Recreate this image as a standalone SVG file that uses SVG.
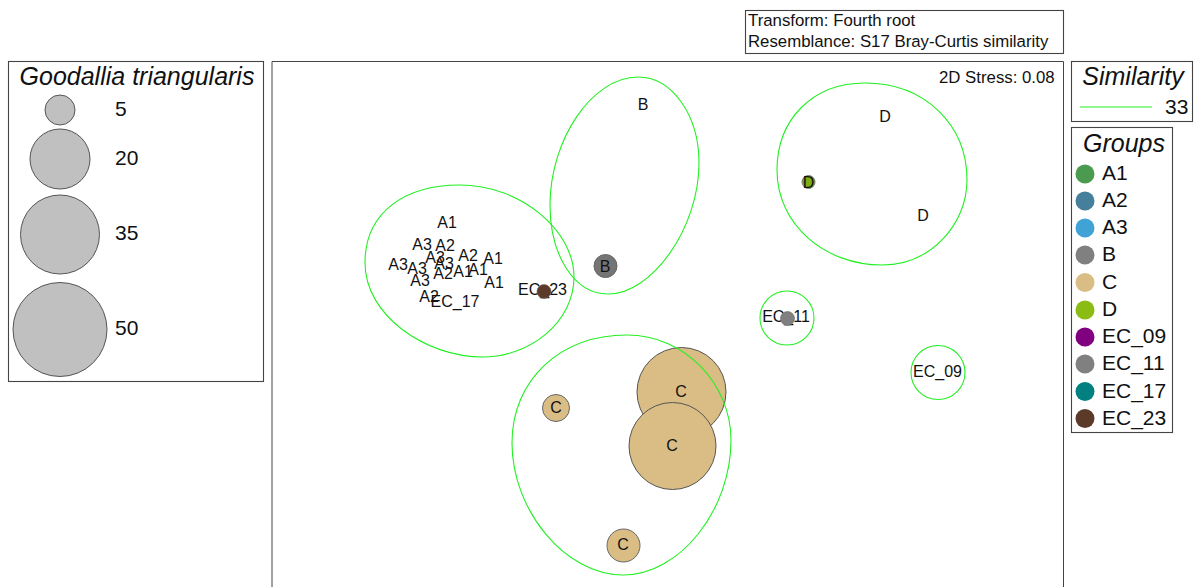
<svg xmlns="http://www.w3.org/2000/svg" width="1203" height="587" viewBox="0 0 1203 587">
<style>
text{font-family:"Liberation Sans",Arial,sans-serif;fill:#111}
.box{fill:#fff;stroke:#444;stroke-width:1.100}
.c{fill:none;stroke:#22f022;stroke-width:1.100}
.l{font-size:16px;text-anchor:middle}
.t{font-size:16.800px}
.h{font-size:25px;font-style:italic;text-anchor:middle}
.v{font-size:21px}
.g{font-size:21px}
.bub{fill:#c0c0c0;stroke:#555;stroke-width:1}
</style>
<rect width="1203" height="587" fill="#fff"/>
<g id="transform-box"><rect class="box" x="745.500" y="10.500" width="318" height="43"/><text class="t" x="748" y="25.500">Transform: Fourth root</text><text class="t" x="748" y="47">Resemblance: S17 Bray-Curtis similarity</text></g>
<g id="size-legend"><rect class="box" x="8.500" y="61.500" width="255" height="320"/><text class="h" x="137" y="85">Goodallia triangularis</text>
<circle class="bub" cx="60" cy="110" r="15"/><circle class="bub" cx="60" cy="159" r="30"/><circle class="bub" cx="60" cy="234.500" r="39.500"/><circle class="bub" cx="60" cy="329.500" r="47"/>
<text class="v" x="115" y="116">5</text><text class="v" x="115" y="165">20</text><text class="v" x="115" y="240">35</text><text class="v" x="115" y="335">50</text></g>
<g id="plot-frame"><path d="M272 587V61.500H1063.500V587" fill="#fff" stroke="#444"/><text class="t" x="939" y="82.500">2D Stress: 0.08</text></g>
<g id="similarity-legend"><rect class="box" x="1071.500" y="61.500" width="121" height="60"/><text class="h" x="1133" y="85">Similarity</text><line class="c" x1="1080" x2="1152" y1="107" y2="107"/><text class="v" x="1165" y="114">33</text></g>
<g id="groups-legend"><rect class="box" x="1071.500" y="127.500" width="101" height="305"/><text class="h" x="1124" y="152">Groups</text>
<g id="lg-A1"><circle cx="1085" cy="174" r="9.500" fill="#4a9b50"/><text class="g" x="1102" y="180">A1</text></g>
<g id="lg-A2"><circle cx="1085" cy="201" r="9.500" fill="#457f9c"/><text class="g" x="1102" y="207">A2</text></g>
<g id="lg-A3"><circle cx="1085" cy="228" r="9.500" fill="#41a2d6"/><text class="g" x="1102" y="234">A3</text></g>
<g id="lg-B"><circle cx="1085" cy="255" r="9.500" fill="#808080"/><text class="g" x="1102" y="261">B</text></g>
<g id="lg-C"><circle cx="1085" cy="282.500" r="9.500" fill="#dabd84"/><text class="g" x="1102" y="288.500">C</text></g>
<g id="lg-D"><circle cx="1085" cy="310" r="9.500" fill="#8abc14"/><text class="g" x="1102" y="316">D</text></g>
<g id="lg-EC09"><circle cx="1085" cy="337" r="9.500" fill="#800080"/><text class="g" x="1102" y="343">EC_09</text></g>
<g id="lg-EC11"><circle cx="1085" cy="364" r="9.500" fill="#808080"/><text class="g" x="1102" y="370">EC_11</text></g>
<g id="lg-EC17"><circle cx="1085" cy="391.500" r="9.500" fill="#008080"/><text class="g" x="1102" y="397.500">EC_17</text></g>
<g id="lg-EC23"><circle cx="1085" cy="418.500" r="9.500" fill="#5c3a2a"/><text class="g" x="1102" y="424.500">EC_23</text></g></g>
<g id="bubbles">
<circle cx="681.500" cy="392" r="44.500" fill="#dabd84" stroke="#555"/>
<circle cx="672.500" cy="446" r="43.500" fill="#dabd84" stroke="#555"/>
<circle cx="556" cy="408" r="13.500" fill="#dabd84" stroke="#666"/>
<circle cx="623.500" cy="545.500" r="16.500" fill="#dabd84" stroke="#666"/>
<circle cx="605.500" cy="266" r="11.500" fill="#757575" stroke="#666"/>
<circle cx="808.500" cy="182" r="6.500" fill="#7fae12" stroke="#777"/>
</g>
<g id="connectors">
<path class="c" d="M460 185C520 185 574 230 574 277C574 322 530 357 483 357C425 357 365 315 365 263C365 212 405 185 460 185Z"/>
<path class="c" d="M638 77C672 77 699 115 699 163C699 228 652 294 608 294C574 294 550 255 550 205C550 140 592 77 638 77Z"/>
<path class="c" d="M865 83C925 83 967 125 967 180C967 225 930 265 882 265C825 265 777 225 777 170C777 120 812 83 865 83Z"/>
<path class="c" d="M627 335C686 335 731 385 731 440C731 510 680 575 623 575C565 575 512 510 512 443C512 380 560 335 627 335Z"/>
<circle class="c" cx="787" cy="318" r="27"/>
<circle class="c" cx="938" cy="372.500" r="27"/>
</g>
<g id="labels">
<g id="pt-A"><text class="l" x="447" y="228">A1</text><text class="l" x="422" y="250">A3</text><text class="l" x="445" y="251">A2</text><text class="l" x="435" y="263">A3</text><text class="l" x="468" y="261">A2</text><text class="l" x="493" y="264">A1</text><text class="l" x="398" y="270">A3</text><text class="l" x="417" y="274">A3</text><text class="l" x="444" y="269">A3</text><text class="l" x="443" y="279">A2</text><text class="l" x="463" y="277">A1</text><text class="l" x="478" y="275">A1</text><text class="l" x="420" y="286">A3</text><text class="l" x="494" y="288">A1</text><text class="l" x="429" y="302">A2</text></g>
<g id="pt-EC17"><text class="l" x="455" y="307">EC_17</text></g>
<g id="pt-EC23"><text class="l" x="542.500" y="295">EC_23</text><circle cx="544" cy="291.500" r="7" fill="#5c3a2a" stroke="#666" stroke-width=".6"/></g>
<g id="pt-B"><text class="l" x="643" y="110">B</text><text class="l" x="605" y="271.500">B</text></g>
<g id="pt-D"><text class="l" x="885" y="121.500">D</text><text class="l" x="808.500" y="187.500">D</text><text class="l" x="923" y="221">D</text></g>
<g id="pt-C"><text class="l" x="681" y="397">C</text><text class="l" x="672" y="451">C</text><text class="l" x="556" y="413">C</text><text class="l" x="623" y="550">C</text></g>
<g id="pt-EC11"><text class="l" x="786" y="322">EC_11</text><circle cx="787.500" cy="318.500" r="7" fill="#808080" stroke="#666" stroke-width=".6"/></g>
<g id="pt-EC09"><text class="l" x="937.500" y="376.500">EC_09</text></g>
</g>
</svg>
